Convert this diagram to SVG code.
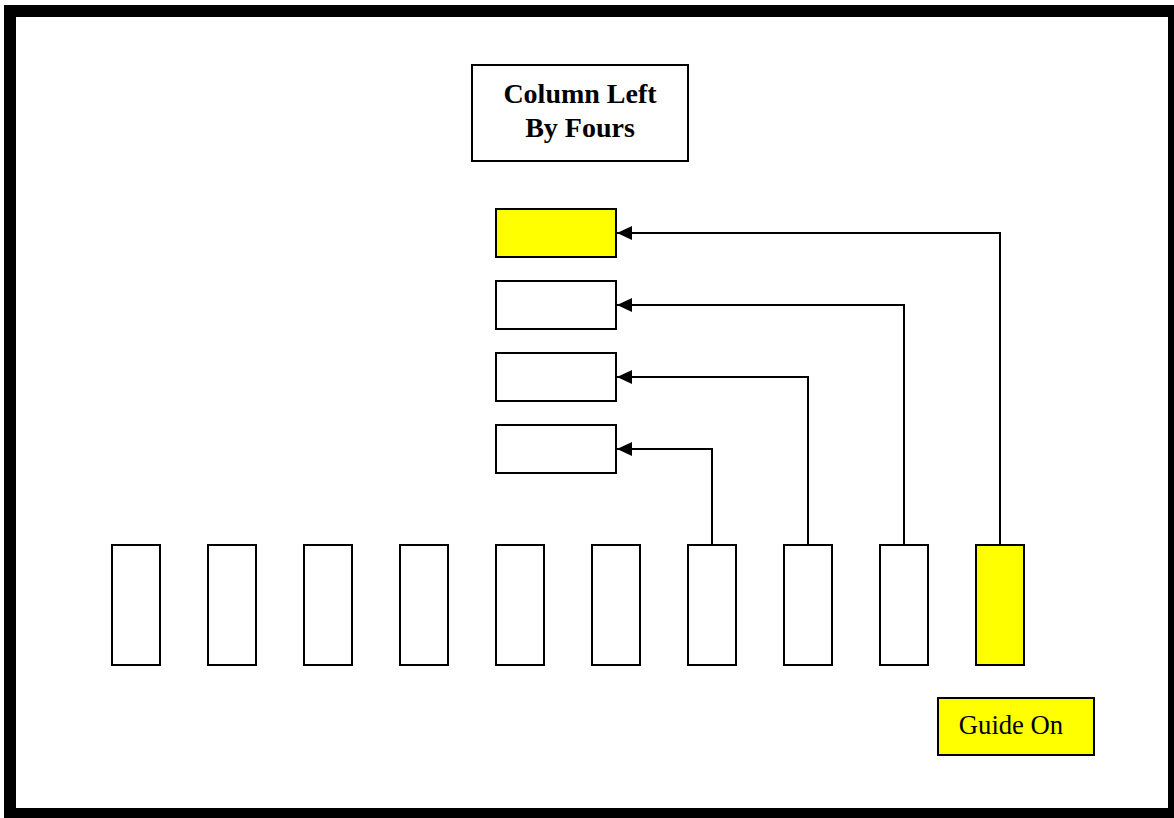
<svg xmlns="http://www.w3.org/2000/svg" width="1174" height="818" viewBox="0 0 1174 818">
<style>
.box{fill:#fff;stroke:#000;stroke-width:2}
.yel{fill:#ffff00;stroke:#000;stroke-width:2}
.conn{fill:none;stroke:#000;stroke-width:2}
.t{font-family:"Liberation Serif","Times New Roman",serif;fill:#000;text-anchor:middle}
</style>
<defs>
<marker id="ah" markerUnits="userSpaceOnUse" markerWidth="16" markerHeight="16" refX="15" refY="7" orient="auto">
<path d="M0,0 L15,7 L0,14 Z" fill="#000"/>
</marker>
</defs>
<rect x="10" y="11" width="1164" height="803" fill="#fff" stroke="#000" stroke-width="12"/>
<g id="title"><rect class="box" x="472" y="65" width="216" height="96"/>
<text class="t" x="580" y="103" font-size="28" font-weight="bold">Column Left</text>
<text class="t" x="580" y="137" font-size="28" font-weight="bold">By Fours</text></g>
<g id="r1"><rect class="yel" x="496" y="209" width="120" height="48"/></g>
<g id="r2"><rect class="box" x="496" y="281" width="120" height="48"/></g>
<g id="r3"><rect class="box" x="496" y="353" width="120" height="48"/></g>
<g id="r4"><rect class="box" x="496" y="425" width="120" height="48"/></g>
<g id="c1"><rect class="box" x="112" y="545" width="48" height="120"/></g>
<g id="c2"><rect class="box" x="208" y="545" width="48" height="120"/></g>
<g id="c3"><rect class="box" x="304" y="545" width="48" height="120"/></g>
<g id="c4"><rect class="box" x="400" y="545" width="48" height="120"/></g>
<g id="c5"><rect class="box" x="496" y="545" width="48" height="120"/></g>
<g id="c6"><rect class="box" x="592" y="545" width="48" height="120"/></g>
<g id="c7"><rect class="box" x="688" y="545" width="48" height="120"/></g>
<g id="c8"><rect class="box" x="784" y="545" width="48" height="120"/></g>
<g id="c9"><rect class="box" x="880" y="545" width="48" height="120"/></g>
<g id="c10"><rect class="yel" x="976" y="545" width="48" height="120"/></g>
<g id="guide"><rect class="yel" x="938" y="698" width="156" height="57"/>
<text class="t" x="1011" y="734" font-size="26.67">Guide On</text></g>
<g id="connectors">
<polyline class="conn" points="712,545 712,449 617,449" marker-end="url(#ah)"/>
<polyline class="conn" points="808,545 808,377 617,377" marker-end="url(#ah)"/>
<polyline class="conn" points="904,545 904,305 617,305" marker-end="url(#ah)"/>
<polyline class="conn" points="1000,545 1000,233 617,233" marker-end="url(#ah)"/>
</g>
</svg>
